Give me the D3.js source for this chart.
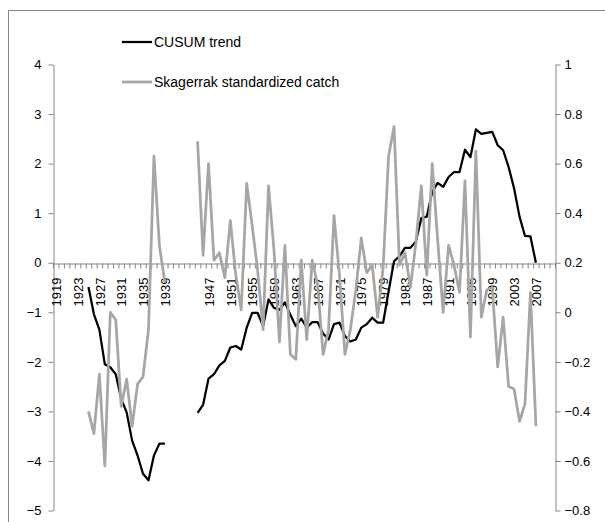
<!DOCTYPE html>
<html>
<head>
<meta charset="utf-8">
<script src="https://cdn.jsdelivr.net/npm/d3@7"></script>
<style>
    body { margin: 0; background: #fff; }
    svg { display: block; }
    text { font-family: "Liberation Sans", Arial, sans-serif; fill: #000; }
</style>
</head>
<body>
<div id="viz"></div>
<script>
// years 1925..2007, null = no data
const firstYear = 1925;

const cusumTrend = [
    -0.49, -1.04, -1.35, -2.05, -2.11, -2.25, -2.75, -3.02, -3.59, -3.89,
    -4.26, -4.39, -3.89, -3.65, -3.65,
    null, null, null, null, null,
    -3.03, -2.87, -2.34, -2.25, -2.07, -1.98, -1.71, -1.68, -1.75, -1.31,
    -1.01, -1.01, -1.28, -0.74, -0.91, -0.95, -0.80, -1.05, -1.28, -1.13,
    -1.31, -1.20, -1.20, -1.43, -1.55, -1.24, -1.21, -1.48, -1.59, -1.55,
    -1.31, -1.24, -1.11, -1.21, -1.21, -0.58, 0.03, 0.13, 0.30, 0.30,
    0.43, 0.90, 0.93, 1.43, 1.61, 1.53, 1.73, 1.83, 1.83, 2.28,
    2.13, 2.69, 2.60, 2.62, 2.64, 2.37, 2.27, 1.93, 1.50, 0.93,
    0.54, 0.53, 0.00
];

const skagerrakCatch = [
    -0.40, -0.49, -0.25, -0.62, 0.00, -0.03, -0.38, -0.27, -0.46, -0.29,
    -0.26, -0.07, 0.63, 0.27, 0.12,
    null, null, null, null, null,
    0.69, 0.23, 0.60, 0.21, 0.24, 0.14, 0.37, 0.15, 0.01, 0.52,
    0.35, 0.17, -0.07, 0.51, 0.25, -0.12, 0.27, -0.17, -0.19, 0.21,
    -0.11, 0.21, 0.11, -0.17, -0.07, 0.39, 0.15, -0.17, -0.07, 0.09,
    0.30, 0.16, 0.19, -0.02, 0.18, 0.63, 0.75, 0.19, 0.24, 0.10,
    0.28, 0.51, 0.15, 0.60, 0.29, 0.00, 0.27, 0.19, 0.08, 0.53,
    -0.10, 0.65, -0.02, 0.09, 0.10, -0.22, -0.02, -0.30, -0.31, -0.44,
    -0.37, 0.08, -0.46
];

const yearLabels = [1919, 1923, 1927, 1931, 1935, 1939, 1947, 1951, 1955, 1959,
    1963, 1967, 1971, 1975, 1979, 1983, 1987, 1991, 1995, 1999, 2003, 2007];
const leftTicks = [-5, -4, -3, -2, -1, 0, 1, 2, 3, 4];
const rightTicks = [-0.8, -0.6, -0.4, -0.2, 0, 0.2, 0.4, 0.6, 0.8, 1];

const width = 605,
    height = 522,
    axisColor = '#868686',
    catchColor = '#a6a6a6';

const svg = d3.select('#viz').append('svg')
    .attr('width', width)
    .attr('height', height);

// chart area border (cropped at right and bottom)
svg.append('rect')
    .attr('x', 8.5)
    .attr('y', 10.5)
    .attr('width', 700)
    .attr('height', 700)
    .style('fill', 'none')
    .style('stroke', axisColor);

const x = d3.scaleLinear().domain([1918.5, 2010.5]).range([53, 555]);
const yLeft = d3.scaleLinear().domain([-5, 4]).range([510.5, 64.5]);
const yRight = d3.scaleLinear().domain([-0.8, 1]).range([510.5, 64.5]);

function styleAxis(g) {
    g.selectAll('path, line').style('stroke', axisColor);
    g.selectAll('text').style('font-size', '13px').style('fill', '#000')
        .style('font-family', '"Liberation Sans", Arial, sans-serif');
}

svg.append('g')
    .attr('transform', 'translate(53.5,0)')
    .call(d3.axisLeft(yLeft).tickValues(leftTicks).tickSize(5).tickSizeOuter(0).tickPadding(7))
    .call(styleAxis);

svg.append('g')
    .attr('transform', 'translate(555.5,0)')
    .call(d3.axisRight(yRight).tickValues(rightTicks).tickSize(5).tickSizeOuter(0).tickPadding(4)
        .tickFormat(d3.format('')))
    .call(styleAxis);

// category axis along zero, one tick per year boundary
const boundaries = d3.range(1918.5, 2011, 1);
const zeroY = Math.round(yLeft(0)) + 0.5;

svg.append('g')
    .attr('transform', `translate(0,${zeroY})`)
    .call(d3.axisBottom(x).tickValues(boundaries).tickSize(5).tickSizeOuter(0).tickFormat(''))
    .call(styleAxis);

svg.append('g')
    .selectAll('text')
    .data(yearLabels)
    .join('text')
    .attr('transform', d => `translate(${x(d) + 0.5},${zeroY + 14}) rotate(-90)`)
    .attr('dy', '0.36em')
    .attr('text-anchor', 'end')
    .style('font-size', '13px')
    .text(d => d);

const cusumPoints = cusumTrend.map((v, i) => ({ year: firstYear + i, value: v }));
const catchPoints = skagerrakCatch.map((v, i) => ({ year: firstYear + i, value: v }));

const leftLine = d3.line()
    .defined(d => d.value !== null)
    .x(d => x(d.year))
    .y(d => yLeft(d.value));

const rightLine = d3.line()
    .defined(d => d.value !== null)
    .x(d => x(d.year))
    .y(d => yRight(d.value));

svg.append('path')
    .datum(cusumPoints)
    .attr('d', leftLine)
    .style('fill', 'none')
    .style('stroke', '#000')
    .style('stroke-width', 2.25)
    .style('stroke-linejoin', 'round');

svg.append('path')
    .datum(catchPoints)
    .attr('d', rightLine)
    .style('fill', 'none')
    .style('stroke', catchColor)
    .style('stroke-width', 2.75)
    .style('stroke-linejoin', 'round');

// legend
const legend = [
    { name: 'CUSUM trend', color: '#000', w: 2.25, y: 42 },
    { name: 'Skagerrak standardized catch', color: catchColor, w: 2.75, y: 82 }
];

const item = svg.append('g').selectAll('g')
    .data(legend)
    .join('g');

item.append('line')
    .attr('x1', 122)
    .attr('x2', 152)
    .attr('y1', d => d.y)
    .attr('y2', d => d.y)
    .style('stroke', d => d.color)
    .style('stroke-width', d => d.w);

item.append('text')
    .attr('x', 154)
    .attr('y', d => d.y)
    .attr('dy', '0.35em')
    .style('font-size', '14px')
    .text(d => d.name);
</script>
</body>
</html>
